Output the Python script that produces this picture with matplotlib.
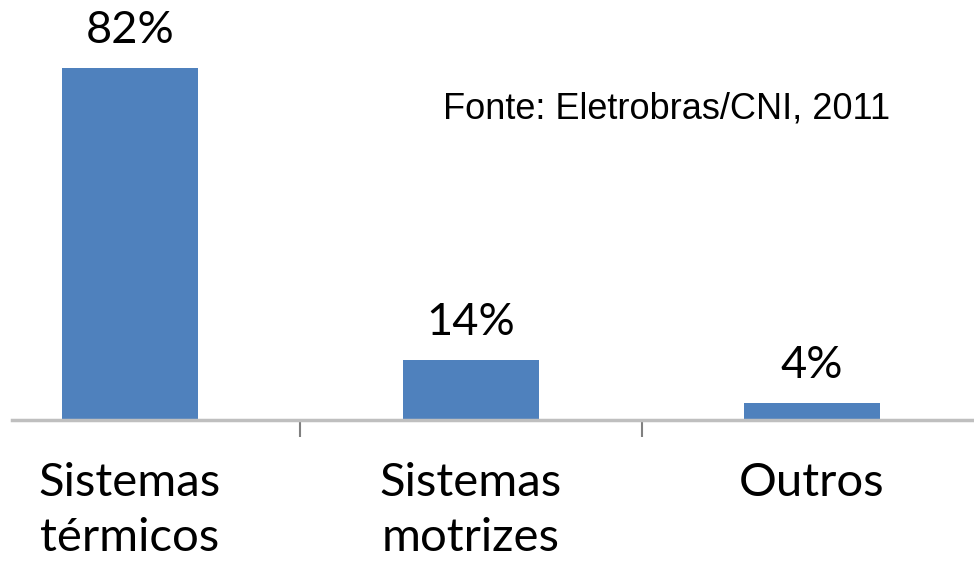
import matplotlib.pyplot as plt

categories = ["Sistemas\ntérmicos", "Sistemas\nmotrizes", "Outros"]
values = [82, 14, 4]
value_labels = ["82%", "14%", "4%"]
source_note = "Fonte: Eletrobras/CNI, 2011"

bar_color = "#4f81bd"
axis_color = "#bfbfbf"

fig = plt.figure(figsize=(9.74, 5.69), dpi=100)
ax = fig.add_axes([12 / 974, 149 / 569, 962 / 974, 420 / 569])

positions = list(range(len(values)))
ax.bar(positions, values, width=0.40, color=bar_color)

for x, v, lab in zip(positions, values, value_labels):
    ax.annotate(
        lab,
        (x, v),
        xytext=(0, 18),
        textcoords="offset points",
        ha="center",
        va="baseline",
        fontsize=32.5,
        family="Lato",
    )

ax.set_xlim(-0.346, 2.475)
ax.set_ylim(0, 97.9)

for side in ["top", "right", "left"]:
    ax.spines[side].set_visible(False)
ax.spines["bottom"].set_color(axis_color)
ax.spines["bottom"].set_linewidth(2.5)

ax.set_yticks([])
ax.set_xticks([0.5, 1.5])
ax.set_xticklabels([])
ax.tick_params(axis="x", length=12, width=1.5, color="#808080")

for x, cat in zip(positions, categories):
    ax.text(
        x,
        -9.8,
        cat,
        ha="center",
        va="top",
        fontsize=34,
        family="Lato",
        linespacing=1.38,
    )

ax.text(
    0.448,
    0.719,
    source_note,
    transform=ax.transAxes,
    ha="left",
    va="baseline",
    fontsize=26,
    family="Liberation Sans",
)

fig.savefig("out.png", dpi=100)
